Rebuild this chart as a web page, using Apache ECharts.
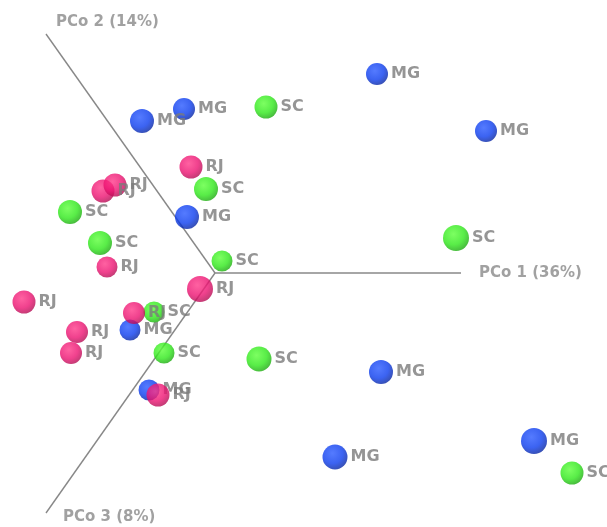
<!DOCTYPE html>
<html>
<head>
<meta charset="utf-8">
<script src="https://cdn.jsdelivr.net/npm/echarts@6/dist/echarts.min.js"></script>
<style>html,body{margin:0;padding:0;background:#fff;}#c{width:607px;height:527px;}</style>
</head>
<body>
<div id="c"></div>
<script>
// Projected PCoA coordinates [x, y, depth]
const mgPoints = [
  [1.62, 1.99, 0.0], [2.71, 1.42, 0.0], [-0.73, 1.52, 0.5], [-0.31, 1.64, 0.0],
  [-0.28, 0.56, 0.5], [-0.85, -0.57, -0.25], [-0.66, -1.17, -0.25], [1.66, -0.99, 0.5],
  [1.20, -1.84, 0.75], [3.19, -1.68, 1.0]
];
const scPoints = [
  [0.51, 1.66, 0.25], [-0.09, 0.84, 0.5], [-1.45, 0.61, 0.5], [-1.15, 0.30, 0.5],
  [0.07, 0.12, -0.25], [2.41, 0.35, 1.0], [-0.61, -0.39, -0.25], [-0.51, -0.80, -0.25],
  [0.44, -0.86, 0.75], [3.57, -2.00, 0.25]
];
const rjPoints = [
  [-0.24, 1.06, 0.25], [-1.12, 0.82, 0.25], [-1.00, 0.88, 0.25], [-1.08, 0.06, -0.25],
  [-1.91, -0.29, 0.25], [-0.15, -0.16, 1.0], [-0.81, -0.40, 0.0], [-1.38, -0.59, 0.0],
  [-1.44, -0.80, 0.0], [-0.57, -1.22, 0.25]
];
const groupNames = ['MG', 'SC', 'RJ'];
const axisNames = ['PCo 1 (36%)', 'PCo 2 (14%)', 'PCo 3 (8%)'];
const axisEnds = [[2.46, 0], [-1.69, 2.39], [-1.69, -2.40]];

const chart = echarts.init(document.getElementById('c'), null, {renderer: 'canvas'});

function ball(light, base, dark) {
  return new echarts.graphic.RadialGradient(0.4, 0.35, 0.68, [
    {offset: 0, color: light}, {offset: 0.6, color: base}, {offset: 1, color: dark}
  ]);
}
const styles = {
  MG: ball('#2a5aff', '#0b3cee', '#0624a0'),
  SC: ball('#5cff3a', '#2fe81a', '#1aa80d'),
  RJ: ball('#ff3a8a', '#ec1271', '#b30b52')
};
const dataLabel = {
  show: true, position: 'right', distance: 3, offset: [0, -6],
  formatter: p => p.seriesName,
  fontFamily: 'DejaVu Sans', fontSize: 16, fontWeight: 'bold', color: '#7a7a7a'
};

const axisLineSeries = axisEnds.map((e, i) => ({
  type: 'line', name: 'axis' + i, data: [[0, 0], e], symbol: 'none', silent: true,
  lineStyle: {color: '#888888', width: 1.4}, z: 1
}));

const titleOffsets = [
  {distance: 18, offset: [0, 0]},
  {distance: 10, offset: [0, -12]},
  {distance: 17, offset: [0, 4]}
];

const pointSeries = [mgPoints, scPoints, rjPoints].map((pts, i) => ({
  type: 'scatter', name: groupNames[i], data: pts, symbol: 'circle',
  itemStyle: {color: styles[groupNames[i]]}, label: dataLabel, z: 2 + i,
  labelLayout: {hideOverlap: false}
}));

chart.setOption({
  animation: false,
  backgroundColor: '#ffffff',
  grid: {left: 0, right: 0, top: 0, bottom: 0},
  xAxis: {type: 'value', min: -2.15, max: 3.92, show: false},
  yAxis: {type: 'value', min: -2.54, max: 2.73, show: false},
  visualMap: {
    show: false, type: 'continuous', dimension: 2, min: -1, max: 1,
    seriesIndex: [3, 4, 5], inRange: {symbolSize: [18, 26]}
  },
  series: [
    ...axisLineSeries,
    ...pointSeries,
    {
      type: 'scatter', name: 'axisTitles', symbolSize: 0, silent: true, z: 10,
      data: axisEnds.map((e, i) => ({
        value: e,
        label: {
          show: true, position: 'right', distance: titleOffsets[i].distance,
          offset: titleOffsets[i].offset, formatter: axisNames[i],
          fontFamily: 'DejaVu Sans', fontSize: 15, fontWeight: 'bold', color: '#8a8a8a'
        }
      }))
    }
  ]
});
</script>
</body>
</html>
